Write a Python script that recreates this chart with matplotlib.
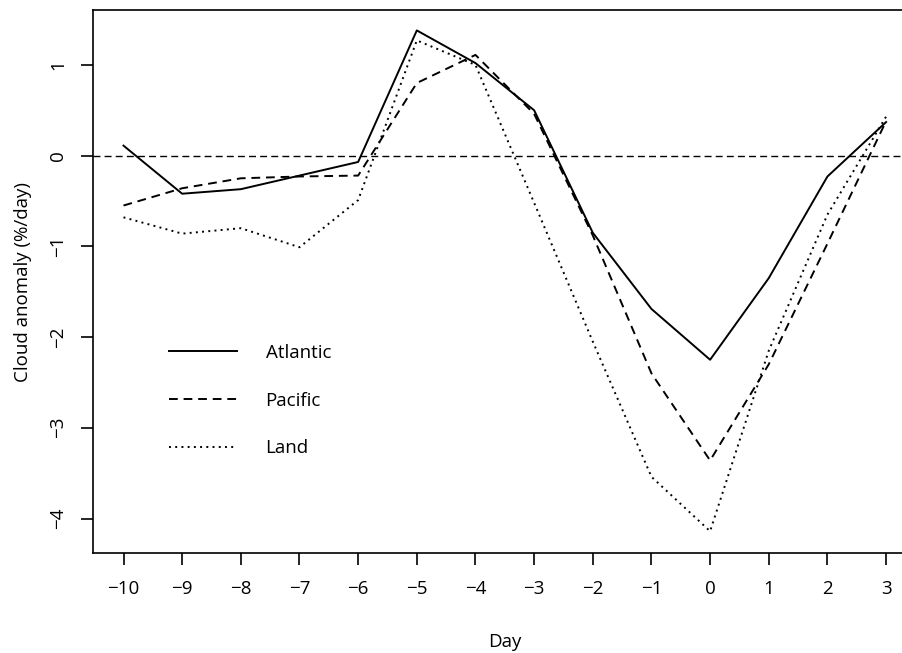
import matplotlib
matplotlib.use("Agg")
import matplotlib.pyplot as plt

plt.rcParams['font.family'] = ['Open Sans', 'DejaVu Sans']

days = list(range(-10, 4))
atlantic = [0.11, -0.42, -0.37, -0.22, -0.07, 1.38, 1.02, 0.50, -0.85, -1.69, -2.25, -1.35, -0.23, 0.37]
pacific = [-0.55, -0.36, -0.25, -0.23, -0.22, 0.80, 1.11, 0.46, -0.88, -2.40, -3.36, -2.30, -0.97, 0.38]
land = [-0.68, -0.86, -0.80, -1.01, -0.49, 1.27, 1.00, -0.52, -2.05, -3.54, -4.14, -2.15, -0.65, 0.43]
yticks = [-4, -3, -2, -1, 0, 1]

fig = plt.figure(figsize=(9.02, 6.53), dpi=100)
ax = fig.add_axes([93/902, 100/653, 823.6/902, 543/653])

ax.axhline(0, color='black', lw=1.0, linestyle=(0, (5, 3)))
ax.plot(days, atlantic, color='black', lw=1.4, label='Atlantic')
ax.plot(days, pacific, color='black', lw=1.4, linestyle=(0, (4.5, 3)), label='Pacific')
ax.plot(days, land, color='black', lw=1.4, linestyle=(0, (1, 2.2)), label='Land')

ax.set_xlim(-10.52, 3.52)
ax.set_ylim(-4.38, 1.605)
ax.set_xticks(days)
ax.set_yticks(yticks)

for s in ax.spines.values():
    s.set_linewidth(1.2)
ax.tick_params(direction='out', length=8.6, width=1.2, labelsize=13.5, pad=11)
ax.tick_params(axis='y', labelrotation=90, pad=10)
for lab in ax.get_yticklabels():
    lab.set_va('center')

ax.set_xlabel('Day', fontsize=13.5, labelpad=25)
ax.set_ylabel('Cloud anomaly (%/day)', fontsize=13.5, labelpad=12)

ax.legend(loc='upper left', bbox_to_anchor=(169/902, 1 - 344/653),
          bbox_transform=fig.transFigure, frameon=False, fontsize=13.5,
          handlelength=3.6, handletextpad=1.55, labelspacing=1.58,
          borderpad=0, borderaxespad=0)

fig.savefig('out.png', dpi=100)
